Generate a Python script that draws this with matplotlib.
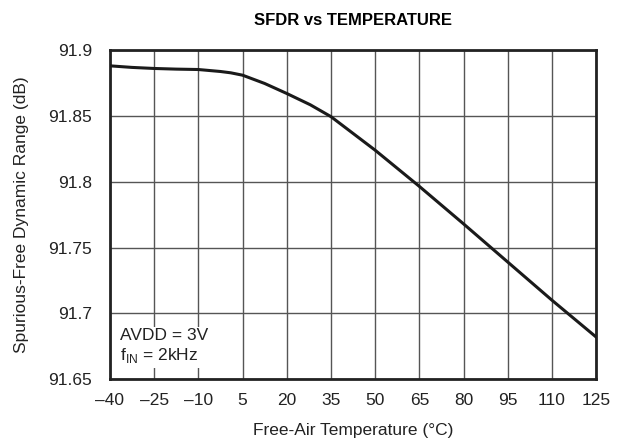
import numpy as np
import matplotlib.pyplot as plt

plt.rcParams['font.family'] = ['Liberation Sans', 'DejaVu Sans']

temp = [-40, -32.5, -25, -17.5, -10, -2.5, 1, 5, 12.5, 20, 28, 35, 50, 65, 80, 95, 110, 125]
sfdr = [91.8881, 91.8869, 91.8861, 91.8856, 91.8853, 91.8838, 91.8828, 91.8810, 91.8747,
        91.8671, 91.8585, 91.8495, 91.8240, 91.7965, 91.7680, 91.7390, 91.7100, 91.6820]

xticks = [-40, -25, -10, 5, 20, 35, 50, 65, 80, 95, 110, 125]
yticks = [91.65, 91.7, 91.75, 91.8, 91.85, 91.9]
ylabels = ['91.65', '91.7', '91.75', '91.8', '91.85', '91.9']

fig = plt.figure(figsize=(6.21, 4.44), dpi=100)
ax = fig.add_axes([0.177, 0.146, 0.783, 0.741])

ax.plot(temp, sfdr, color='#1a1a1a', lw=2.2, zorder=3)

ax.set_xlim(-40, 125)
ax.set_ylim(91.65, 91.9)
ax.set_xticks(xticks)
ax.set_xticklabels([str(t).replace('-', '\u2013') for t in xticks])
ax.set_yticks(yticks)
ax.set_yticklabels(ylabels)
ax.tick_params(length=0, labelsize=12.5, colors='#222222')
ax.tick_params(axis='x', pad=10)
ax.tick_params(axis='y', pad=13)
ax.grid(True, color='#555555', lw=1.0)
ax.set_axisbelow(True)
for s in ax.spines.values():
    s.set_linewidth(2)
    s.set_color('#222222')

ax.set_title('SFDR vs TEMPERATURE', fontsize=12, fontweight='bold', pad=18)
ax.set_xlabel('Free-Air Temperature (\u00b0C)', fontsize=12.5, labelpad=11, color='#222222')
ax.set_ylabel('Spurious-Free Dynamic Range (dB)', fontsize=12.5, labelpad=14, color='#222222')

ax.text(-36.6, 91.675, 'AVDD = 3V\nf$_{\\mathregular{IN}}$ = 2kHz', fontsize=12.5, va='center', ha='left',
        linespacing=1.25, color='#222222', zorder=2,
        bbox=dict(facecolor='white', edgecolor='none', pad=2))

fig.savefig('out.png', dpi=100)
